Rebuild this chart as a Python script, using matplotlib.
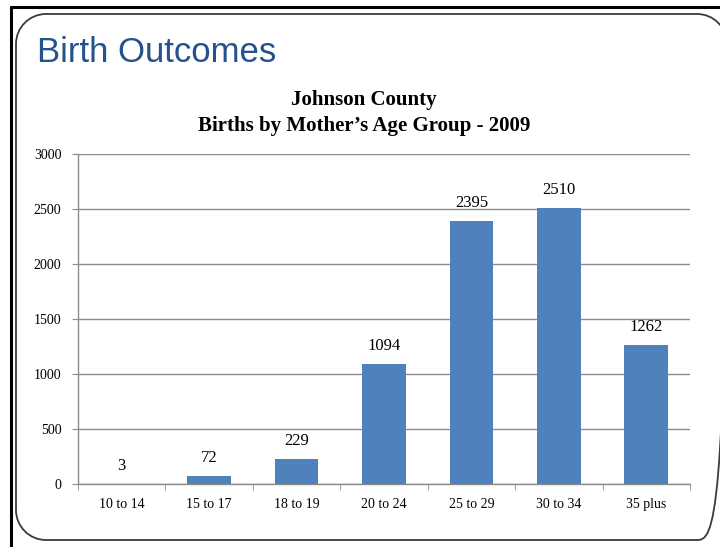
import matplotlib
matplotlib.use("Agg")
import matplotlib.pyplot as plt
from matplotlib.patches import PathPatch
from matplotlib.path import Path
from matplotlib.lines import Line2D
import numpy as np

categories = ["10 to 14", "15 to 17", "18 to 19", "20 to 24", "25 to 29", "30 to 34", "35 plus"]
births = [3, 72, 229, 1094, 2395, 2510, 1262]
y_ticks = [0, 500, 1000, 1500, 2000, 2500, 3000]

W, H, DPI = 720, 547, 100
fig = plt.figure(figsize=(W / DPI, H / DPI), dpi=DPI)
fig.patch.set_facecolor("white")

serif = ["Liberation Serif", "DejaVu Serif"]
bar_color = "#4F81BD"
grid_color = "#8C8C8C"


def inch(xp, yp):
    """pixel position measured from the top-left corner -> inches from bottom-left"""
    return xp / DPI, (H - yp) / DPI


# slide frame: black outer edge
fig.add_artist(Line2D([10 / DPI, W / DPI], [(H - 7) / DPI] * 2, transform=fig.dpi_scale_trans,
                      color="black", lw=2.2, solid_capstyle="butt"))
fig.add_artist(Line2D([11 / DPI] * 2, [0, (H - 6) / DPI], transform=fig.dpi_scale_trans,
                      color="black", lw=2.2, solid_capstyle="butt"))

# rounded content box
L, T, R, B, r = 16, 14, 727, 540, 30
k = 0.5523 * r
pts = [
    (L + r, T), (R - r, T),
    (R - r + k, T), (R, T + r - k), (R, T + r),
    (R, B - r),
    (R, B - r + k), (R - r + k, B), (R - r, B),
    (L + r, B),
    (L + r - k, B), (L, B - r + k), (L, B - r),
    (L, T + r),
    (L, T + r - k), (L + r - k, T), (L + r, T),
]
codes = [Path.MOVETO, Path.LINETO,
         Path.CURVE4, Path.CURVE4, Path.CURVE4,
         Path.LINETO,
         Path.CURVE4, Path.CURVE4, Path.CURVE4,
         Path.LINETO,
         Path.CURVE4, Path.CURVE4, Path.CURVE4,
         Path.LINETO,
         Path.CURVE4, Path.CURVE4, Path.CURVE4]
frame = Path([inch(*p) for p in pts], codes)
fig.add_artist(PathPatch(frame, transform=fig.dpi_scale_trans, facecolor="none",
                         edgecolor="#3A3A3A", lw=1.3))

fig.text(37 / W, 1 - 52 / H, "Birth Outcomes", fontsize=25, color="#23528C",
         family=["Liberation Sans", "DejaVu Sans"], ha="left", va="center")

fig.text(364 / W, 1 - 100 / H, "Johnson County", fontsize=15, fontweight="bold",
         family=serif, ha="center", va="center")
fig.text(364 / W, 1 - 126 / H, "Births by Mother\u2019s Age Group - 2009", fontsize=15,
         fontweight="bold", family=serif, ha="center", va="center")

ax = fig.add_axes([78 / W, 1 - 484 / H, (690 - 78) / W, (484 - 154) / H])
x = np.arange(len(categories))
ax.bar(x, births, width=0.5, color=bar_color, edgecolor="none", zorder=3)

for xi, v in zip(x, births):
    ax.annotate(f"{v}", (xi, v), xytext=(0, 7), textcoords="offset points",
                ha="center", va="bottom", fontsize=12, family=serif)

ax.set_xlim(-0.5, len(categories) - 0.5)
ax.set_ylim(0, 3000)
ax.set_yticks(y_ticks)
ax.set_yticklabels([str(t) for t in y_ticks], family=serif, fontsize=10)
ax.yaxis.grid(True, color=grid_color, lw=1, zorder=0)
ax.set_axisbelow(True)

ax.set_xticks(x)
ax.set_xticklabels(categories, family=serif, fontsize=10)
ax.set_xticks(np.arange(-0.5, len(categories)), minor=True)
ax.tick_params(axis="x", which="major", length=0, pad=10)
ax.tick_params(axis="x", which="minor", length=4, color=grid_color, direction="out")
ax.tick_params(axis="y", length=4, color=grid_color, pad=8)

for side in ["top", "right"]:
    ax.spines[side].set_visible(False)
for side in ["left", "bottom"]:
    ax.spines[side].set_color(grid_color)
    ax.spines[side].set_linewidth(1)

fig.savefig("out.png", dpi=DPI)
